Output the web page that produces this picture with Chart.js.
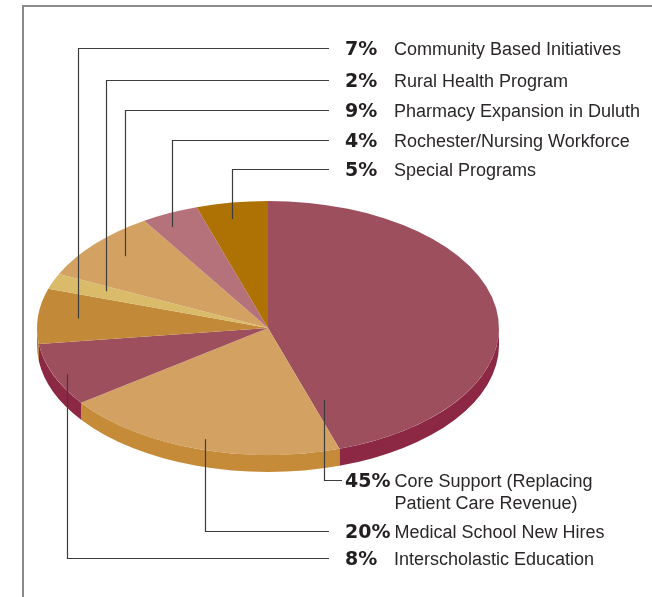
<!DOCTYPE html>
<html>
<head>
<meta charset="utf-8">
<script src="https://cdn.jsdelivr.net/npm/chart.js@4.4.1/dist/chart.umd.min.js"></script>
<style>
  html, body { margin: 0; padding: 0; background: #fff; }
  canvas { display: block; }
</style>
</head>
<body>
<canvas id="fundingPie" width="652" height="597"></canvas>
<script>
// Funding split, clockwise from 12 o'clock
const categories = [
    'Core Support (Replacing\nPatient Care Revenue)',
    'Medical School New Hires',
    'Interscholastic Education',
    'Community Based Initiatives',
    'Rural Health Program',
    'Pharmacy Expansion in Duluth',
    'Rochester/Nursing Workforce',
    'Special Programs'
];
const shares = [45, 20, 8, 7, 2, 9, 4, 5];

const topColors = ['#9e4f5e', '#d3a263', '#9e4f5e', '#c28a38', '#d9bb6a', '#d3a263', '#b6727b', '#ae7204'];
const rimColors = ['#8c2744', '#c58b38', '#8c2744', '#b97e2c', '#c9a552', '#c58b38', '#9c5562', '#96620a'];

// callout placement: t = position along the slice, r = fraction of radius,
// y = label row, end = where the leader meets the text
const callouts = [
    { t: 0.969, r: 0.617, y: 480, end: 342 },
    { t: 0.49,  r: 0.917, y: 531, end: 329 },
    { t: 0.46,  r: 0.942, y: 558, end: 329 },
    { t: 0.49,  r: 0.826, y: 48,  end: 329 },
    { t: 0.62,  r: 0.759, y: 80,  end: 329 },
    { t: 0.53,  r: 0.839, y: 110, end: 329 },
    { t: 0.33,  r: 0.897, y: 140, end: 329 },
    { t: 0.43,  r: 0.872, y: 169, end: 329 }
];

const TILT = 127 / 231;   // vertical squash of the disc
const DEPTH = 17;         // rim thickness in px
const PCT_X = 345;
const NAME_X = 394;

function applyTilt(ctx, arc) {
    ctx.translate(arc.x, arc.y);
    ctx.scale(1, TILT);
    ctx.translate(-arc.x, -arc.y);
}

const tiltedPie = {
    id: 'tiltedPie',
    beforeDatasetsDraw(chart) {
        const ctx = chart.ctx;
        const arcs = chart.getDatasetMeta(0).data;
        ctx.save();
        applyTilt(ctx, arcs[0]);
        const dy = DEPTH / TILT;
        arcs.forEach((arc, i) => {
            // only the front half of the disc shows its rim
            [[0, Math.PI], [2 * Math.PI, 3 * Math.PI]].forEach(([lo, hi]) => {
                const a1 = Math.max(arc.startAngle, lo);
                const a2 = Math.min(arc.endAngle, hi);
                if (a2 <= a1) return;
                ctx.beginPath();
                ctx.arc(arc.x, arc.y + dy, arc.outerRadius, a1, a2);
                ctx.arc(arc.x, arc.y, arc.outerRadius, a2, a1, true);
                ctx.closePath();
                ctx.fillStyle = rimColors[i];
                ctx.fill();
            });
        });
    },
    afterDatasetsDraw(chart) {
        chart.ctx.restore();
    }
};

const frameAndCallouts = {
    id: 'frameAndCallouts',
    afterDraw(chart) {
        const ctx = chart.ctx;
        const arcs = chart.getDatasetMeta(0).data;
        ctx.save();

        // page frame, top and left
        ctx.strokeStyle = '#8a8a8a';
        ctx.lineWidth = 2;
        ctx.beginPath();
        ctx.moveTo(23, chart.height);
        ctx.lineTo(23, 6);
        ctx.lineTo(chart.width, 6);
        ctx.stroke();

        arcs.forEach((arc, i) => {
            const c = callouts[i];
            const a = arc.startAngle + (arc.endAngle - arc.startAngle) * c.t;
            const ax = Math.round(arc.x + Math.cos(a) * arc.outerRadius * c.r) + 0.5;
            const ay = arc.y + Math.sin(a) * arc.outerRadius * c.r * TILT;
            const ly = Math.round(c.y) + 0.5;

            ctx.strokeStyle = '#3c3c3c';
            ctx.lineWidth = 1.2;
            ctx.beginPath();
            ctx.moveTo(ax, ay);
            ctx.lineTo(ax, ly);
            ctx.lineTo(c.end, ly);
            ctx.stroke();

            ctx.fillStyle = '#231f20';
            ctx.textBaseline = 'alphabetic';
            ctx.font = 'bold 19px "DejaVu Sans"';
            const pct = shares[i] + '%';
            ctx.fillText(pct, PCT_X, c.y + 7);
            const nameX = Math.max(NAME_X, PCT_X + ctx.measureText(pct).width + 4);

            ctx.fillStyle = '#2b2728';
            ctx.font = '18px "Liberation Sans"';
            categories[i].split('\n').forEach((line, k) => {
                ctx.fillText(line, nameX, c.y + 7 + k * 22);
            });
        });
        ctx.restore();
    }
};

new Chart(document.getElementById('fundingPie'), {
    type: 'pie',
    data: {
        labels: categories,
        datasets: [{
            data: shares,
            backgroundColor: topColors,
            borderWidth: 0
        }]
    },
    options: {
        responsive: false,
        animation: false,
        events: [],
        layout: { padding: { left: 37, right: 153, top: 97, bottom: 38 } },
        plugins: {
            legend: { display: false },
            tooltip: { enabled: false }
        }
    },
    plugins: [tiltedPie, frameAndCallouts]
});
</script>
</body>
</html>
